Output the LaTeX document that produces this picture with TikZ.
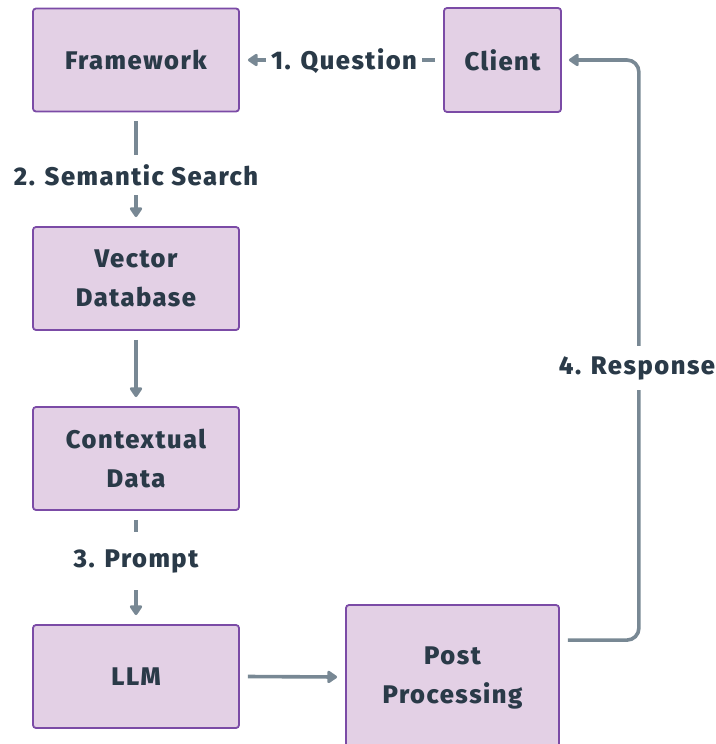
\documentclass[tikz,border=0pt]{standalone}
\usepackage{fontspec}
\setmainfont{Fira Sans}[BoldFont={Fira Sans ExtraBold}, LetterSpace=6]
\usetikzlibrary{arrows.meta,calc}
\definecolor{boxfill}{HTML}{E3D0E5}
\definecolor{boxline}{HTML}{7B4BA6}
\definecolor{txt}{HTML}{2A3A48}
\definecolor{arr}{HTML}{788894}
\tikzset{
  box/.style={draw=boxline, line width=1.8pt, fill=boxfill, rounded corners=3pt,
    minimum width=206pt, minimum height=103pt, align=center, text=txt,
    font=\fontsize{25.5}{39}\selectfont\bfseries, inner sep=0pt},
  conn/.style={draw=arr, line width=3.6pt, -{Triangle[length=11pt,width=14pt,round]}},
  lbl/.style={fill=white, text=txt, font=\fontsize{25.5}{28}\selectfont\bfseries, inner sep=0pt}
}
\begin{document}
\begin{tikzpicture}[x=1pt,y=-1pt]
\useasboundingbox (0,0) rectangle (715,744);
\node[box] (fw) at (136,60) {Framework};
\node[box, minimum width=117pt, minimum height=104pt] (cl) at (502.5,60) {Client};
\node[box] (vd) at (136,278.5) {Vector\\Database};
\node[box] (cd) at (136,458.5) {Contextual\\Data};
\node[box] (llm) at (136,676.5) {LLM};
\node[box, minimum width=213pt, minimum height=146pt] (pp) at (452.5,678) {Post\\Processing};
% 1
\draw[conn] ($(cl.west)+(-8,0)$) -- ($(fw.east)+(8,0)$);
\node[lbl, inner xsep=5pt, minimum height=30pt] (q) at (344,61) {1. Question};
% 2
\draw[conn] ($(fw.south)+(0,9)$) -- ($(vd.north)+(0,-9)$);
\node[lbl, minimum width=260pt, minimum height=40pt] (ss) at (136,175) {2. Semantic Search};
% vd -> cd
\draw[conn] ($(vd.south)+(0,9)$) -- ($(cd.north)+(0,-9)$);
% 3
\draw[conn] ($(cd.south)+(0,9)$) -- ($(llm.north)+(0,-9)$);
\node[lbl, minimum width=130pt, minimum height=58pt] (pr) at (136,561) {3. Prompt};
% llm -> pp
\draw[conn] ($(llm.east)+(8,0)$) -- ($(pp.west)+(-8,-1)$);
% 4
\coordinate (ps) at ($(pp.north east)+(8,36)$);
\draw[conn, rounded corners=12pt] (ps) -| ($(cl.east)+(77,0)$) -- ($(cl.east)+(7,0)$);
\node[lbl, minimum width=158pt, minimum height=44pt] (rs) at (637,368) {4. Response};
\end{tikzpicture}
\end{document}
